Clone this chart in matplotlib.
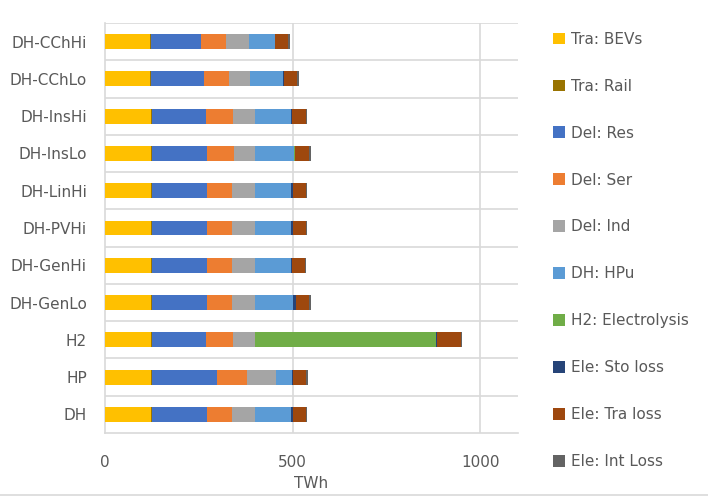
import matplotlib.pyplot as plt
from matplotlib.lines import Line2D

plt.rcParams['font.family'] = ['DejaVu Sans']

# scenarios, bottom to top
scenarios = ['DH', 'HP', 'H2', 'DH-GenLo', 'DH-GenHi', 'DH-PVHi', 'DH-LinHi',
             'DH-InsLo', 'DH-InsHi', 'DH-CChLo', 'DH-CChHi']

# electricity use per component, TWh
tra_bevs = [122, 122, 122, 122, 122, 122, 122, 122, 122, 120, 120]
tra_rail = [4.4, 4.4, 4.4, 4.4, 4.4, 4.4, 4.4, 4.4, 4.4, 3.5, 3.5]
del_res = [145, 173, 141.5, 145, 145, 145, 145, 145, 141.5, 140, 132]
del_ser = [68, 79, 72, 68, 68, 68, 68, 72, 72, 68, 68]
del_ind = [60, 77, 60, 60, 60, 60, 60, 57, 60, 56, 59]
dh_hpu = [97, 41.6, 0, 102, 97, 97, 97, 102, 95, 87, 71]
h2_elec = [0, 0, 481, 0, 0, 0, 0, 3, 0, 0, 0]
ele_sto = [3.5, 3.5, 2.7, 8, 1, 3.5, 3.5, 1, 2.7, 3.5, 0]
ele_tra = [35, 35, 64, 34.5, 36, 35, 35, 38, 37, 34.5, 35]
ele_int = [4.4, 4.4, 4.4, 4.4, 3, 4.4, 4.4, 4.4, 2.7, 3.5, 3.5]

series = [
    ('Tra: BEVs', tra_bevs, '#FFC000'),
    ('Tra: Rail', tra_rail, '#997300'),
    ('Del: Res', del_res, '#4472C4'),
    ('Del: Ser', del_ser, '#ED7D31'),
    ('Del: Ind', del_ind, '#A5A5A5'),
    ('DH: HPu', dh_hpu, '#5B9BD5'),
    ('H2: Electrolysis', h2_elec, '#70AD47'),
    ('Ele: Sto loss', ele_sto, '#264478'),
    ('Ele: Tra loss', ele_tra, '#9E480E'),
    ('Ele: Int Loss', ele_int, '#636363'),
]

fig = plt.figure(figsize=(7.08, 4.99), dpi=100)
ax = fig.add_axes([105 / 708, 1 - 433 / 499, 413 / 708, 410 / 499])

ypos = list(range(len(scenarios)))
left = [0.0] * len(scenarios)
handles = []
for name, vals, col in series:
    b = ax.barh(ypos, vals, left=left, height=0.4, color=col, label=name, zorder=3)
    handles.append(b)
    left = [l + v for l, v in zip(left, vals)]

grid_col = '#D9D9D9'
ax.set_xlim(0, 1100)
ax.set_ylim(-0.5, len(scenarios) - 0.5)
for k in range(len(scenarios)):
    ax.axhline(k + 0.5, color=grid_col, lw=1.2, zorder=1)
for x in (500, 1000):
    ax.axvline(x, color=grid_col, lw=1.2, zorder=1)

ax.set_yticks(ypos)
ax.set_yticklabels(scenarios)
ax.set_xticks([0, 500, 1000])
for s in ('top', 'right'):
    ax.spines[s].set_visible(False)
for s in ('left', 'bottom'):
    ax.spines[s].set_color(grid_col)
    ax.spines[s].set_linewidth(1.2)
ax.tick_params(axis='both', length=0, labelsize=11, labelcolor='#595959')
ax.tick_params(axis='x', pad=16)
ax.tick_params(axis='y', pad=13)
ax.set_xlabel('TWh', fontsize=11, color='#595959', labelpad=4)

fig.legend(handles=handles, loc='upper left', bbox_to_anchor=(539 / 708, 1 - 18 / 499),
           frameon=False, fontsize=11, handlelength=0.8, handleheight=0.8,
           handletextpad=0.4, labelspacing=2.09, labelcolor='#595959')

# chart area border along the bottom
fig.add_artist(Line2D([0, 1], [1 - 495 / 499] * 2, color=grid_col, lw=1.2))

fig.savefig('out.png', dpi=100)
